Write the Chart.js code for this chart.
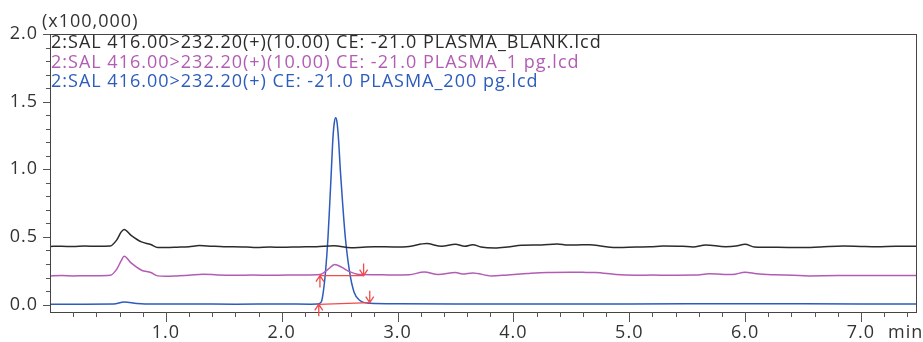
<!DOCTYPE html>
<html>
<head>
<meta charset="utf-8">
<script src="https://cdn.jsdelivr.net/npm/chart.js@4.4.0/dist/chart.umd.min.js"></script>
<style>
  html, body { margin: 0; padding: 0; background: #fff; }
  #wrap { width: 923px; height: 342px; }
</style>
</head>
<body>
<div id="wrap"><canvas id="chart" width="923" height="342"></canvas></div>
<script>
// retention time (min) and intensity (x100,000)
var blankTime = [0, 0.1, 0.2, 0.3, 0.4, 0.52, 0.575, 0.615, 0.64, 0.7, 0.79, 0.87, 0.93, 1.0, 1.1, 1.2, 1.29, 1.4, 1.5, 1.58, 1.7, 1.78, 1.9, 2.0, 2.15, 2.3, 2.45, 2.6, 2.7, 2.8, 2.97, 3.1, 3.25, 3.38, 3.5, 3.58, 3.65, 3.72, 3.84, 3.95, 4.07, 4.24, 4.38, 4.47, 4.55, 4.66, 4.77, 4.91, 5.06, 5.18, 5.29, 5.46, 5.55, 5.66, 5.83, 5.92, 6.0, 6.08, 6.28, 6.48, 6.65, 6.85, 7.0, 7.14, 7.3, 7.475];
var blankIntensity = [0.430, 0.431, 0.429, 0.432, 0.431, 0.433, 0.476, 0.537, 0.555, 0.512, 0.463, 0.444, 0.421, 0.421, 0.424, 0.428, 0.436, 0.431, 0.428, 0.428, 0.425, 0.421, 0.425, 0.423, 0.426, 0.428, 0.435, 0.420, 0.424, 0.427, 0.426, 0.430, 0.451, 0.431, 0.446, 0.431, 0.443, 0.426, 0.419, 0.426, 0.438, 0.441, 0.448, 0.440, 0.441, 0.443, 0.431, 0.421, 0.426, 0.427, 0.433, 0.431, 0.426, 0.441, 0.428, 0.432, 0.445, 0.426, 0.423, 0.421, 0.426, 0.433, 0.430, 0.428, 0.431, 0.431];

var pg1Time = [0, 0.1, 0.2, 0.3, 0.4, 0.52, 0.575, 0.615, 0.64, 0.7, 0.79, 0.87, 0.93, 1.0, 1.1, 1.2, 1.32, 1.45, 1.6, 1.75, 1.9, 2.05, 2.2, 2.33, 2.4, 2.457, 2.52, 2.58, 2.67, 2.8, 2.95, 3.1, 3.23, 3.35, 3.5, 3.56, 3.65, 3.81, 3.95, 4.12, 4.29, 4.49, 4.6, 4.71, 4.885, 5.06, 5.2, 5.34, 5.57, 5.69, 5.89, 6.0, 6.1, 6.25, 6.41, 6.55, 6.8, 7.14, 7.3, 7.475];
var pg1Intensity = [0.212, 0.214, 0.212, 0.213, 0.213, 0.216, 0.260, 0.325, 0.357, 0.308, 0.254, 0.237, 0.212, 0.209, 0.212, 0.216, 0.224, 0.219, 0.217, 0.218, 0.216, 0.219, 0.219, 0.222, 0.260, 0.296, 0.275, 0.245, 0.222, 0.221, 0.218, 0.220, 0.241, 0.222, 0.237, 0.226, 0.234, 0.212, 0.219, 0.229, 0.237, 0.239, 0.238, 0.237, 0.222, 0.217, 0.218, 0.217, 0.218, 0.227, 0.222, 0.239, 0.227, 0.220, 0.217, 0.212, 0.214, 0.214, 0.214, 0.214];

var pg200Time = [0, 0.3, 0.55, 0.64, 0.75, 0.9, 1.2, 1.6, 2.0, 2.25, 2.31, 2.342, 2.36, 2.378, 2.399, 2.414, 2.428, 2.442, 2.455, 2.466, 2.477, 2.49, 2.507, 2.527, 2.55, 2.586, 2.624, 2.672, 2.76, 3.0, 3.5, 4.0, 5.0, 6.0, 7.0, 7.475];
var pg200Intensity = [0.003, 0.003, 0.004, 0.018, 0.008, 0.004, 0.004, 0.003, 0.004, 0.003, 0.004, 0.020, 0.100, 0.241, 0.488, 0.734, 0.981, 1.228, 1.350, 1.380, 1.350, 1.228, 0.981, 0.734, 0.488, 0.241, 0.093, 0.032, 0.010, 0.006, 0.005, 0.005, 0.005, 0.006, 0.005, 0.005];

// peak integration start / end points
var pg1PeakTime = [2.33, 2.707];
var pg1PeakBase = [0.214, 0.214];
var pg200PeakTime = [2.32, 2.76];
var pg200PeakBase = [0.002, 0.014];

var traceLabels = [
    '2:SAL 416.00>232.20(+)(10.00) CE: -21.0 PLASMA_BLANK.lcd',
    '2:SAL 416.00>232.20(+)(10.00) CE: -21.0 PLASMA_1 pg.lcd',
    '2:SAL 416.00>232.20(+) CE: -21.0 PLASMA_200 pg.lcd'
];
var traceColors = ['#2b2b2b', '#b25cb4', '#2c5cbc'];

var xMajorTicks = [1, 2, 3, 4, 5, 6, 7];
var yMajorTicks = [0, 0.5, 1.0, 1.5, 2.0];
var yScaleLabel = '(x100,000)';
var xUnitLabel = 'min';

var FONT = '"Open Sans", "Noto Sans", sans-serif';
var RED = '#f04a4a';

function toPoints(xs, ys) {
    return xs.map(function(x, i) { return { x: x, y: ys[i] }; });
}

function isIn(list, v) {
    return list.some(function(m) { return Math.abs(m - v) < 1e-6; });
}

function drawArrow(ctx, x, y, dir) {
    // dir -1: points up (tail below), +1: points down (tail above)
    var len = 12, head = 6, half = 4;
    ctx.beginPath();
    ctx.moveTo(x, y - dir * len);
    ctx.lineTo(x, y);
    ctx.moveTo(x - half, y - dir * head);
    ctx.lineTo(x, y);
    ctx.lineTo(x + half, y - dir * head);
    ctx.stroke();
}

var chromDecor = {
    id: 'chromDecor',
    beforeDraw: function(chart) {
        // the instrument font is a bit wider than Open Sans
        chart.ctx.letterSpacing = '1px';
    },
    afterDraw: function(chart) {
        var ctx = chart.ctx;
        var a = chart.chartArea;
        var xs = chart.scales.x;
        var ys = chart.scales.y;
        ctx.save();

        // frame
        ctx.strokeStyle = '#444';
        ctx.lineWidth = 1;
        ctx.strokeRect(Math.round(a.left) + 0.5, Math.round(a.top) + 0.5,
            Math.round(a.right - a.left), Math.round(a.bottom - a.top));

        // x ticks
        ctx.strokeStyle = '#555';
        xs.ticks.forEach(function(t) {
            var px = Math.round(xs.getPixelForValue(t.value)) + 0.5;
            if (px <= a.left + 1) return;
            var len = isIn(xMajorTicks, t.value) ? 10 : 5;
            ctx.beginPath();
            ctx.moveTo(px, a.bottom);
            ctx.lineTo(px, a.bottom + len);
            ctx.stroke();
        });
        // y ticks
        ys.ticks.forEach(function(t) {
            var py = Math.round(ys.getPixelForValue(t.value)) + 0.5;
            var len = isIn(yMajorTicks, t.value) ? 7 : 4;
            ctx.beginPath();
            ctx.moveTo(a.left - len, py);
            ctx.lineTo(a.left, py);
            ctx.stroke();
        });

        // texts
        ctx.font = '18px ' + FONT;
        ctx.letterSpacing = '1px';
        ctx.fillStyle = '#333';
        ctx.textAlign = 'left';
        ctx.textBaseline = 'alphabetic';
        ctx.fillText(yScaleLabel, 42, 27);
        ctx.fillText(xUnitLabel, 888, 338);

        traceLabels.forEach(function(txt, i) {
            ctx.fillStyle = traceColors[i];
            ctx.fillText(txt, a.left + 1, a.top + 14 + i * 19.5);
        });

        // integration arrows
        ctx.strokeStyle = RED;
        ctx.lineWidth = 1.3;
        [[pg1PeakTime, pg1PeakBase], [pg200PeakTime, pg200PeakBase]].forEach(function(p) {
            drawArrow(ctx, xs.getPixelForValue(p[0][0]), ys.getPixelForValue(p[1][0]), -1);
            drawArrow(ctx, xs.getPixelForValue(p[0][1]), ys.getPixelForValue(p[1][1]), 1);
        });

        ctx.restore();
    }
};

var trace = function(label, color, pts) {
    return {
        label: label,
        data: pts,
        borderColor: color,
        borderWidth: 1.5,
        pointRadius: 0,
        fill: false,
        cubicInterpolationMode: 'monotone'
    };
};

var baseline = function(pts) {
    return {
        label: 'baseline',
        data: pts,
        borderColor: RED,
        borderWidth: 1.3,
        pointRadius: 0,
        fill: false
    };
};

var chart = new Chart(document.getElementById('chart').getContext('2d'), {
    type: 'line',
    data: {
        datasets: [
            baseline(toPoints(pg1PeakTime, pg1PeakBase)),
            baseline(toPoints(pg200PeakTime, pg200PeakBase)),
            trace(traceLabels[0], traceColors[0], toPoints(blankTime, blankIntensity)),
            trace(traceLabels[1], traceColors[1], toPoints(pg1Time, pg1Intensity)),
            trace(traceLabels[2], traceColors[2], toPoints(pg200Time, pg200Intensity))
        ]
    },
    options: {
        responsive: false,
        animation: false,
        devicePixelRatio: 1,
        layout: { padding: { top: 34, right: 7, left: 0, bottom: 0 } },
        plugins: {
            legend: { display: false },
            tooltip: { enabled: false }
        },
        scales: {
            x: {
                type: 'linear',
                min: 0,
                max: 7.475,
                grid: { display: false, drawTicks: false },
                border: { display: false },
                afterFit: function(scale) { scale.height = 30; },
                ticks: {
                    stepSize: 0.2,
                    autoSkip: false,
                    includeBounds: false,
                    maxRotation: 0,
                    padding: 10,
                    color: '#333',
                    font: { family: FONT, size: 18 },
                    callback: function(v) {
                        return (isIn(xMajorTicks, v)) ? v.toFixed(1) : '';
                    }
                }
            },
            y: {
                min: -0.055,
                max: 2.0,
                grid: { display: false, drawTicks: false },
                border: { display: false },
                afterFit: function(scale) { scale.width = 50; },
                ticks: {
                    stepSize: 0.1,
                    autoSkip: false,
                    includeBounds: false,
                    padding: 12,
                    color: '#333',
                    font: { family: FONT, size: 18 },
                    callback: function(v) {
                        return (isIn(yMajorTicks, v)) ? v.toFixed(1) : '';
                    }
                }
            }
        }
    },
    plugins: [chromDecor]
});
</script>
</body>
</html>
